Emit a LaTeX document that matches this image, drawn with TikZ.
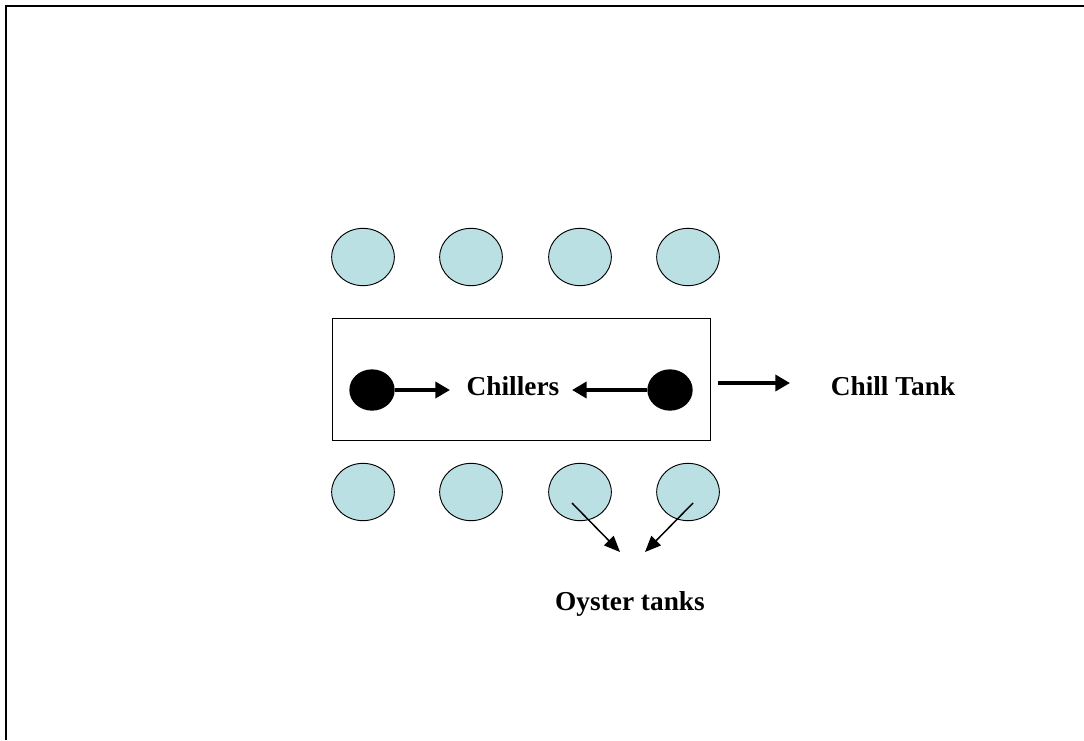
\documentclass[tikz,border=0pt]{standalone}
\usepackage{fontspec}
\setmainfont{Liberation Serif}
\usetikzlibrary{arrows.meta,positioning,shapes.geometric}
\definecolor{tankblue}{RGB}{187,224,227}
\tikzset{
tank/.style={ellipse, draw, fill=tankblue, minimum width=47pt, minimum height=43pt, inner sep=0pt, line width=0.7pt},
chiller/.style={ellipse, fill=black, minimum width=34pt, minimum height=31pt, inner sep=0pt},
lbl/.style={font=\fontsize{20.5}{24}\selectfont\bfseries, inner sep=1pt},
bigarrow/.style={-{Triangle[length=11pt,width=12pt]}, line width=2.8pt},
thinarrow/.style={-{Triangle[length=12pt,width=10pt]}, line width=1.1pt}
}

\begin{document}
\begin{tikzpicture}[x=0.75pt, y=-0.75pt]
\useasboundingbox (0,0) rectangle (1084,740);
\draw[line width=1.5pt] (6,740)--(6,6)--(1084,6);
% oyster tanks
\foreach \i/\x in {1/363,2/471,3/580,4/688}
{
\node[tank] (t\i) at (\x,257) {};
\node[tank] (b\i) at (\x,492) {};
}
% chiller box
\node[draw, line width=0.7pt, minimum width=283pt, minimum height=91.5pt] (box) at (521.5,379) {};
\node[chiller] (chL) at (372,390) {};
\node[chiller] (chR) at (670,390) {};
\node[lbl] (chillers) at (513,386) {Chillers};
\coordinate (chLend) at (450,390);
\coordinate (chRend) at (572,390);
\draw[bigarrow] (chL.east) -- (chLend);
\draw[bigarrow] (chR.west) -- (chRend);
% chill tank
\node[lbl] (chilltank) at (893,386) {Chill Tank};
\coordinate (ctA) at (718,383);
\coordinate (ctB) at (790,383);
\draw[bigarrow] (ctA) -- (ctB);
% oyster label
\node[lbl] (oyster) at (630,604) {Oyster tanks};
\coordinate (o3) at (572,503);
\coordinate (o3end) at (620,552);
\coordinate (o4) at (693,503);
\coordinate (o4end) at (645,552);
\draw[thinarrow] (o3) -- (o3end);
\draw[thinarrow] (o4) -- (o4end);
\end{tikzpicture}
\end{document}
